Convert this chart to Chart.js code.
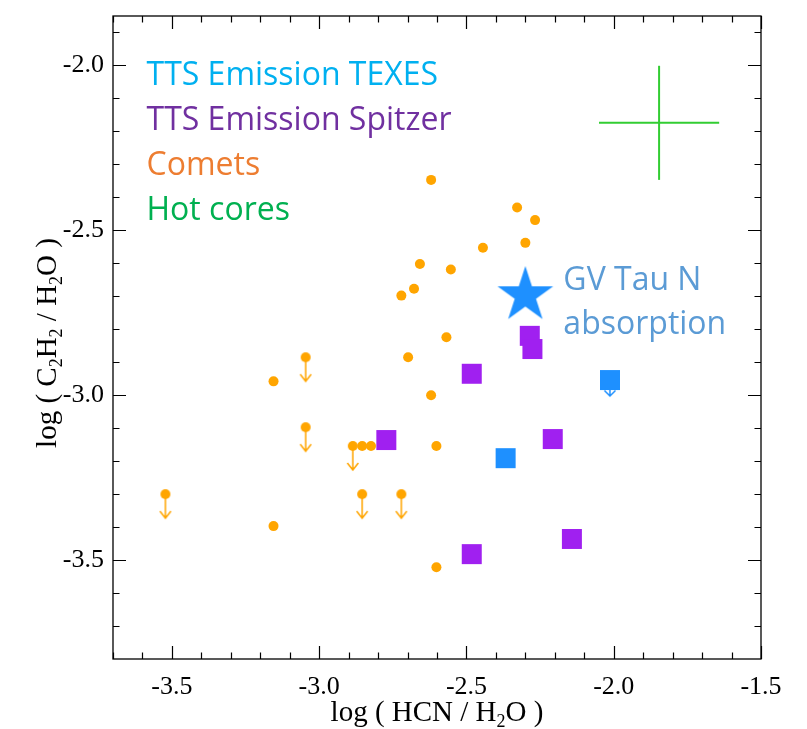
<!DOCTYPE html>
<html>
<head>
<meta charset="utf-8">
<script src="https://cdn.jsdelivr.net/npm/chart.js@4"></script>
<style>
  html, body { margin: 0; padding: 0; background: #fff; }
</style>
</head>
<body>
<canvas id="chart" width="807" height="729"></canvas>
<script>
// Data
const cometX = [-2.620, -2.444, -2.658, -2.553, -2.678, -2.721, -2.568, -2.698, -2.620,
                -3.155, -2.854, -2.824, -2.602, -3.155, -2.602, -2.328, -2.267, -2.300];
const cometY = [-2.347, -2.553, -2.602, -2.619, -2.677, -2.698, -2.824, -2.885, -3.000,
                -2.958, -3.154, -3.154, -3.154, -3.397, -3.522, -2.431, -2.469, -2.538];
// comet upper limits
const cometLimX = [-3.046, -3.046, -2.886, -3.522, -2.854, -2.721];
const cometLimY = [-2.885, -3.097, -3.154, -3.300, -3.300, -3.300];

const spitzerX = [-2.482, -2.772, -2.207, -2.142, -2.482, -2.285, -2.276];
const spitzerY = [-2.935, -3.136, -3.133, -3.436, -3.482, -2.820, -2.860];

const texesX = [-2.367, -2.013];
const texesY = [-3.191, -2.954];
const texesUpper = [false, true];

const gvTauX = [-2.30];
const gvTauY = [-2.697];

// typical error bar (cross, top right)
const errX = -1.846, errY = -2.174;
const errDx = 0.204, errDy = 0.173;

const xTicks = [-3.5, -3.0, -2.5, -2.0, -1.5];
const yTicks = [-3.5, -3.0, -2.5, -2.0];
const minorStep = 0.1;

const legendItems = [
    ['TTS Emission TEXES', '#00B0F0'],
    ['TTS Emission Spitzer', '#7030A0'],
    ['Comets', '#ED7D31'],
    ['Hot cores', '#00B050'],
];

const ORANGE = '#FFA500';
const PURPLE = '#A020F0';
const BLUE = '#1E90FF';

// custom point images
function makeCanvas(w, h) {
    const c = document.createElement('canvas');
    c.width = w; c.height = h;
    return c;
}

// circle with a down arrow (upper limit)
const circleArrow = (() => {
    const c = makeCanvas(14, 54);
    const g = c.getContext('2d');
    g.fillStyle = ORANGE;
    g.beginPath(); g.arc(7, 27, 5, 0, 2 * Math.PI); g.fill();
    g.strokeStyle = ORANGE;
    g.lineWidth = 1.5;
    g.beginPath();
    g.moveTo(7, 27); g.lineTo(7, 51);
    g.moveTo(1.5, 44); g.lineTo(7, 51); g.lineTo(12.5, 44);
    g.stroke();
    return c;
})();

// blue square with a down arrow
const squareArrow = (() => {
    const c = makeCanvas(20, 36);
    const g = c.getContext('2d');
    g.fillStyle = BLUE;
    g.fillRect(0, 8, 20, 20);
    g.strokeStyle = BLUE;
    g.lineWidth = 1.5;
    g.beginPath();
    g.moveTo(10, 28); g.lineTo(10, 34);
    g.moveTo(4.5, 28.5); g.lineTo(10, 34); g.lineTo(15.5, 28.5);
    g.stroke();
    return c;
})();

const starImg = (() => {
    const c = makeCanvas(62, 62);
    const g = c.getContext('2d');
    const R = 29.3, r = R * 0.382;
    g.fillStyle = BLUE;
    g.beginPath();
    for (let i = 0; i < 10; i++) {
        const rad = i % 2 === 0 ? R : r;
        const a = -Math.PI / 2 + i * Math.PI / 5;
        const px = 31 + rad * Math.cos(a), py = 31 + rad * Math.sin(a);
        if (i === 0) g.moveTo(px, py); else g.lineTo(px, py);
    }
    g.closePath();
    g.fill();
    return c;
})();

const toPts = (xs, ys) => xs.map((x, i) => ({ x, y: ys[i] }));

// text with subscripts: parts = [[text, isSub], ...]
function drawRich(ctx, parts, cx, baseline, size) {
    const big = size + 'px "Liberation Serif"';
    const small = Math.round(size * 0.62) + 'px "Liberation Serif"';
    let total = 0;
    parts.forEach(([t, sub]) => { ctx.font = sub ? small : big; total += ctx.measureText(t).width; });
    let x = cx - total / 2;
    ctx.textAlign = 'left';
    ctx.textBaseline = 'alphabetic';
    parts.forEach(([t, sub]) => {
        ctx.font = sub ? small : big;
        ctx.fillText(t, x, baseline + (sub ? size * 0.22 : 0));
        x += ctx.measureText(t).width;
    });
}

// frame with inward major/minor ticks on all four sides
const framePlugin = {
    id: 'frame',
    beforeDatasetsDraw(chart) {
        const { ctx, chartArea: a, scales: { x, y } } = chart;
        ctx.save();
        ctx.strokeStyle = '#000';
        ctx.lineWidth = 1.3;
        ctx.strokeRect(a.left, a.top, a.right - a.left, a.bottom - a.top);
        ctx.lineWidth = 1.2;
        ctx.beginPath();
        const isMajor = v => Math.abs(v * 2 - Math.round(v * 2)) < 1e-6;
        for (let v = Math.ceil(x.min / minorStep) * minorStep; v <= x.max + 1e-9; v += minorStep) {
            const px = Math.round(x.getPixelForValue(v)) + 0.5;
            const len = isMajor(v) ? 13 : 6.5;
            ctx.moveTo(px, a.bottom); ctx.lineTo(px, a.bottom - len);
            ctx.moveTo(px, a.top); ctx.lineTo(px, a.top + len);
        }
        for (let v = Math.ceil(y.min / minorStep) * minorStep; v <= y.max + 1e-9; v += minorStep) {
            const py = Math.round(y.getPixelForValue(v)) + 0.5;
            const len = isMajor(v) ? 13 : 6.5;
            ctx.moveTo(a.left, py); ctx.lineTo(a.left + len, py);
            ctx.moveTo(a.right, py); ctx.lineTo(a.right - len, py);
        }
        ctx.stroke();
        ctx.restore();
    },
    afterDraw(chart) {
        const { ctx, chartArea: a, scales: { x, y } } = chart;
        ctx.save();
        ctx.fillStyle = '#000';
        drawRich(ctx, [['log ( HCN / H', false], ['2', true], ['O )', false]], (a.left + a.right) / 2, 721, 29);
        ctx.translate(56, 343);
        ctx.rotate(-Math.PI / 2);
        drawRich(ctx, [['log ( C', false], ['2', true], ['H', false], ['2', true], [' / H', false], ['2', true], ['O )', false]], 0, 0, 29);
        ctx.restore();

        // legend text
        ctx.save();
        ctx.font = '32px "Open Sans"';
        ctx.textAlign = 'left';
        ctx.textBaseline = 'alphabetic';
        legendItems.forEach(([t, c], i) => {
            ctx.fillStyle = c;
            ctx.fillText(t, a.left + 33.5, a.top + 69 + i * 45);
        });
        // label next to the star
        const sx = x.getPixelForValue(gvTauX[0]);
        const sy = y.getPixelForValue(gvTauY[0]);
        ctx.font = '32px "Open Sans"';
        ctx.fillStyle = '#5B9BD5';
        ctx.fillText('GV Tau N', sx + 38, sy - 5);
        ctx.fillText('absorption', sx + 38, sy + 39);
        ctx.restore();
    }
};

new Chart(document.getElementById('chart'), {
    type: 'scatter',
    data: {
        datasets: [
            { data: toPts(gvTauX, gvTauY), pointStyle: starImg },
            {
                data: toPts(texesX, texesY),
                pointStyle: c => texesUpper[c.dataIndex] ? squareArrow : 'rect',
                pointRadius: 14.14, backgroundColor: BLUE, borderWidth: 0,
            },
            { data: toPts(spitzerX, spitzerY), pointStyle: 'rect', pointRadius: 14.14, backgroundColor: PURPLE, borderWidth: 0 },
            { data: toPts(cometLimX, cometLimY), pointStyle: circleArrow },
            { data: toPts(cometX, cometY), pointStyle: 'circle', pointRadius: 5, backgroundColor: ORANGE, borderWidth: 0 },
            {
                data: [{ x: errX - errDx, y: errY }, { x: errX + errDx, y: errY }],
                showLine: true, borderColor: '#32CD32', borderWidth: 2, pointRadius: 0,
            },
            {
                data: [{ x: errX, y: errY - errDy }, { x: errX, y: errY + errDy }],
                showLine: true, borderColor: '#32CD32', borderWidth: 2, pointRadius: 0,
            },
        ],
    },
    options: {
        responsive: false,
        animation: false,
        events: [],
        layout: { padding: { left: 0, top: 16, right: 46, bottom: 0 } },
        plugins: { legend: { display: false }, tooltip: { enabled: false } },
        scales: {
            x: {
                type: 'linear', min: -3.7, max: -1.5,
                grid: { display: false, drawTicks: false },
                border: { display: false },
                afterBuildTicks: s => { s.ticks = xTicks.map(v => ({ value: v })); },
                afterFit: s => { s.height = 70; s.paddingLeft = 0; s.paddingRight = 0; },
                ticks: {
                    padding: 13, color: '#000',
                    font: { family: 'Liberation Serif', size: 26 },
                    callback: v => v.toFixed(1),
                },
            },
            y: {
                type: 'linear', min: -3.8, max: -1.85,
                grid: { display: false, drawTicks: false },
                border: { display: false },
                afterBuildTicks: s => { s.ticks = yTicks.map(v => ({ value: v })); },
                afterFit: s => { s.width = 113; s.paddingTop = 0; s.paddingBottom = 0; },
                ticks: {
                    padding: 9, color: '#000',
                    font: { family: 'Liberation Serif', size: 26 },
                    callback: v => v.toFixed(1),
                },
            },
        },
    },
    plugins: [framePlugin],
});
</script>
</body>
</html>
